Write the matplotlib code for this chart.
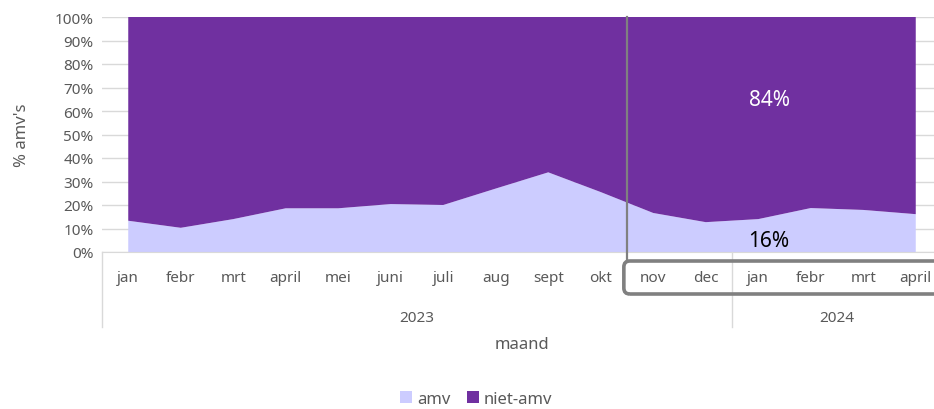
import matplotlib.pyplot as plt
import numpy as np
from matplotlib.patches import FancyBboxPatch
from matplotlib.transforms import IdentityTransform

plt.rcParams['font.family'] = ['Noto Sans', 'DejaVu Sans']

maanden = ['jan', 'febr', 'mrt', 'april', 'mei', 'juni', 'juli', 'aug', 'sept', 'okt',
           'nov', 'dec', 'jan', 'febr', 'mrt', 'april']
jaren = ['2023', '2024']
maanden_per_jaar = [12, 4]
amv = [13.3, 10.3, 14.0, 18.6, 18.6, 20.4, 20.0, 27.0, 33.9, 25.5,
       16.6, 12.7, 14.0, 18.7, 17.9, 16.1]
niet_amv = [100 - v for v in amv]

grijs = '#595959'
lijn = '#D9D9D9'

fig = plt.figure(figsize=(9.34, 4.10), dpi=100)
ax = fig.add_axes([102 / 934, 157 / 410, 840 / 934, 235 / 410])

x = np.arange(len(maanden))
ax.stackplot(x, amv, niet_amv, colors=['#CCCCFF', '#7030A0'],
             labels=['amv', 'niet-amv'], zorder=2)

ax.set_xlim(-0.5, len(maanden) - 0.5)
ax.set_ylim(0, 100)
ax.set_yticks(range(0, 101, 10))
ax.set_yticklabels([f'{t}%' for t in range(0, 101, 10)])
ax.tick_params(axis='y', length=0, labelsize=11, labelcolor=grijs, pad=6)
ax.set_xticks([])
ax.yaxis.grid(True, color=lijn, linewidth=1, zorder=0)
for s in ['top', 'right', 'left']:
    ax.spines[s].set_visible(False)
ax.spines['bottom'].set_color(lijn)

# maand- en jaarlabels
for i, m in enumerate(maanden):
    ax.text(i, -0.11, m, transform=ax.get_xaxis_transform(), ha='center', va='center',
            fontsize=11, color=grijs)
start = -0.5
grenzen = [start]
for j, n in zip(jaren, maanden_per_jaar):
    ax.text(start + n / 2, -0.277, j, transform=ax.get_xaxis_transform(), ha='center',
            va='center', fontsize=11, color=grijs)
    start += n
    grenzen.append(start)
for g in grenzen[:-1]:
    ax.plot([g, g], [0, -0.32], transform=ax.get_xaxis_transform(), color=lijn,
            linewidth=1, clip_on=False)

ax.text(0.5, -0.39, 'maand', transform=ax.transAxes, ha='center', va='center',
        fontsize=12, color=grijs)
ax.set_ylabel("% amv's", fontsize=12, color=grijs, labelpad=18)

# markering laatste maanden
ax.plot([9.5, 9.5], [100, -0.038 * 100], color='#808080', linewidth=1.6,
        clip_on=False, zorder=5)
x0 = ax.transData.transform((9.44, 0))[0]
fig.add_artist(FancyBboxPatch((x0, 115), 945 - x0, 33,
                              boxstyle='round,pad=0,rounding_size=6',
                              transform=IdentityTransform(), fill=False,
                              edgecolor='#808080', linewidth=2.6))

ax.text(12.22, 65, f'{round(np.mean(niet_amv[-6:]))}%', ha='center', va='center',
        fontsize=15, color='white', zorder=6)
ax.text(12.2, 4.8, f'{round(np.mean(amv[-6:]))}%', ha='center', va='center',
        fontsize=15, color='black', zorder=6)

fig.legend(loc='center', bbox_to_anchor=(0.51, 0.025), ncol=2, frameon=False,
           fontsize=12, labelcolor=grijs, handlelength=0.7, handleheight=0.7,
           handletextpad=0.3, columnspacing=1.0)

fig.savefig('out.png', dpi=100)
